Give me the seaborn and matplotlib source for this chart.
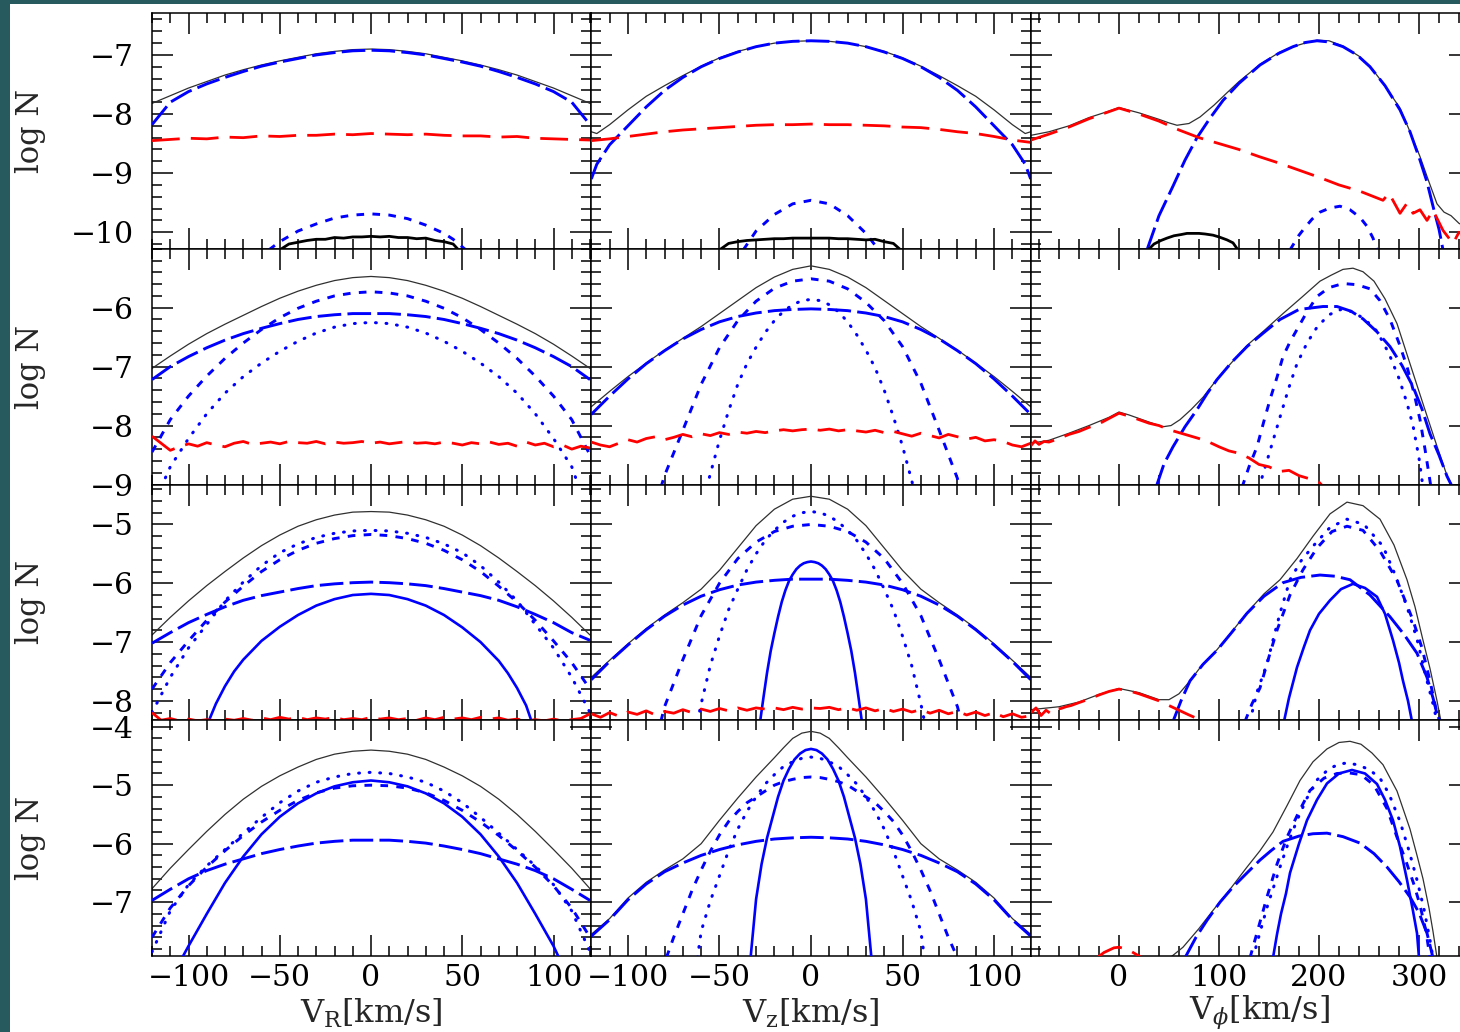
import matplotlib
matplotlib.use("Agg")
import matplotlib.pyplot as plt
from matplotlib.patches import Rectangle
from matplotlib.ticker import MultipleLocator
import seaborn as sns

# ---------------------------------------------------------------- data
V10 = [-120, -110, -100, -90, -80, -70, -60, -50, -40, -30, -20, -10, 0,
       10, 20, 30, 40, 50, 60, 70, 80, 90, 100, 110, 120]
V5 = [-120, -115, -110, -105, -100, -95, -90, -85, -80, -75, -70, -65, -60,
      -55, -50, -45, -40, -35, -30, -25, -20, -15, -10, -5, 0, 5, 10, 15, 20,
      25, 30, 35, 40, 45, 50, 55, 60, 65, 70, 75, 80, 85, 90, 95, 100, 105,
      110, 115, 120]

# ---- row 1 : V_R
r1_vr_total = [-7.82, -7.69, -7.56, -7.45, -7.34, -7.25, -7.17, -7.10, -7.04, -6.98, -6.94, -6.91, -6.90,
               -6.91, -6.94, -6.98, -7.04, -7.10, -7.17, -7.25, -7.34, -7.45, -7.56, -7.69, -7.82]
r1_vr_long = [-8.18, -7.80, -7.62, -7.49, -7.38, -7.28, -7.19, -7.12, -7.06, -7.00, -6.96, -6.93, -6.92,
              -6.93, -6.96, -7.00, -7.06, -7.12, -7.19, -7.28, -7.38, -7.49, -7.62, -7.80, -8.18]
r1_vr_halo = [-8.45, -8.43, -8.41, -8.42, -8.39, -8.40, -8.37, -8.38, -8.36, -8.36, -8.34, -8.35, -8.33,
              -8.34, -8.35, -8.34, -8.36, -8.37, -8.37, -8.39, -8.38, -8.41, -8.42, -8.43, -8.44]
r1_vr_sd_x = [-56, -50, -45, -40, -30, -20, -10, 0, 10, 20, 30, 40, 45, 52]
r1_vr_sd = [-10.30, -10.16, -10.07, -9.98, -9.86, -9.76, -9.71, -9.69, -9.71, -9.77, -9.88, -10.02, -10.12, -10.30]
r1_vr_thick_x = [-50, -45, -40, -35, -30, -25, -20, -15, -10, -5, 0, 5, 10, 15, 20, 25, 30, 35, 40, 45, 48]
r1_vr_thick = [-10.30, -10.20, -10.17, -10.14, -10.12, -10.12, -10.09, -10.10, -10.08, -10.08, -10.07,
               -10.08, -10.07, -10.09, -10.09, -10.11, -10.10, -10.14, -10.16, -10.20, -10.30]

# ---- row 1 : V_z
r1_vz_x = [-120, -117, -110, -100, -90, -80, -70, -60, -50, -40, -30, -20, -10, 0,
           10, 20, 30, 40, 50, 60, 70, 80, 90, 100, 110, 117, 120]
r1_vz_total = [-8.30, -8.33, -8.18, -7.93, -7.70, -7.52, -7.35, -7.19, -7.05, -6.94, -6.86, -6.80, -6.77, -6.76,
               -6.77, -6.80, -6.86, -6.94, -7.05, -7.19, -7.35, -7.52, -7.70, -7.93, -8.18, -8.33, -8.30]
r1_vz_long = [-9.10, -8.85, -8.52, -8.20, -7.88, -7.60, -7.38, -7.20, -7.06, -6.95, -6.86, -6.80, -6.77, -6.76,
              -6.77, -6.80, -6.86, -6.95, -7.06, -7.20, -7.38, -7.60, -7.88, -8.20, -8.52, -8.85, -9.10]
r1_vz_halo = [-8.45, -8.42, -8.38, -8.34, -8.30, -8.27, -8.25, -8.23, -8.21, -8.19, -8.18, -8.18, -8.17,
              -8.18, -8.18, -8.19, -8.20, -8.22, -8.23, -8.26, -8.30, -8.33, -8.38, -8.44, -8.48]
r1_vz_sd_x = [-37, -30, -20, -10, 0, 10, 20, 30, 37]
r1_vz_sd = [-10.30, -9.98, -9.70, -9.52, -9.46, -9.52, -9.72, -10.02, -10.30]
r1_vz_thick_x = [-50, -45, -40, -35, -30, -25, -20, -15, -10, -5, 0, 5, 10, 15, 20, 25, 30, 35, 40, 45, 49]
r1_vz_thick = [-10.30, -10.19, -10.16, -10.14, -10.13, -10.12, -10.11, -10.11, -10.10, -10.10, -10.10,
               -10.10, -10.10, -10.11, -10.11, -10.12, -10.13, -10.12, -10.16, -10.19, -10.30]

# ---- row 1 : V_phi
r1_vp_halo_x = [-88, -70, -50, -30, -10, 0, 20, 40, 60, 80, 100, 120, 140, 160, 180, 200, 220, 240, 255,
                264, 270, 281, 288, 294, 301, 308, 314, 324, 334, 340, 351]
r1_vp_halo = [-8.44, -8.34, -8.22, -8.08, -7.96, -7.90, -8.00, -8.12, -8.27, -8.40, -8.50, -8.60, -8.72,
              -8.83, -8.95, -9.07, -9.20, -9.30, -9.40, -9.46, -9.34, -9.68, -9.51, -9.68, -9.62, -9.80,
              -9.63, -9.97, -10.19, -10.00, -10.10]
r1_vp_total_x = [-88, -70, -50, -30, -10, 0, 20, 40, 50, 58, 70, 81, 95, 108, 120, 141, 160, 174, 190, 198,
                 210, 224, 240, 251, 265, 281, 291, 301, 310, 318, 325, 332, 340, 351]
r1_vp_total = [-8.36, -8.30, -8.20, -8.06, -7.95, -7.89, -7.98, -8.09, -8.15, -8.19, -8.16, -8.05, -7.85,
               -7.64, -7.45, -7.16, -6.96, -6.86, -6.78, -6.75, -6.76, -6.85, -7.02, -7.19, -7.50, -7.90,
               -8.30, -8.72, -9.15, -9.52, -9.66, -9.72, -9.85, -9.95]
r1_vp_long_x = [28, 40, 54, 66, 78, 91, 104, 120, 141, 160, 174, 186, 198, 210, 224, 238, 251, 266, 281,
                291, 301, 308, 314, 320, 324]
r1_vp_long = [-10.30, -9.72, -9.22, -8.78, -8.40, -8.07, -7.77, -7.48, -7.17, -6.97, -6.86, -6.79, -6.76,
              -6.78, -6.86, -7.00, -7.20, -7.52, -7.93, -8.30, -8.78, -9.15, -9.56, -9.95, -10.30]
r1_vp_sd_x = [171, 180, 186, 193, 201, 211, 221, 231, 241, 248, 254, 258]
r1_vp_sd = [-10.30, -10.05, -9.92, -9.78, -9.66, -9.59, -9.56, -9.62, -9.75, -9.90, -10.10, -10.30]
r1_vp_thick_x = [29, 35, 42, 48, 55, 62, 68, 74, 80, 86, 94, 100, 108, 114, 119]
r1_vp_thick = [-10.30, -10.20, -10.14, -10.10, -10.06, -10.04, -10.02, -10.02, -10.02, -10.03, -10.05,
               -10.08, -10.13, -10.18, -10.30]

# ---- row 2 : V_R
r2_vr_total = [-7.03, -6.82, -6.62, -6.44, -6.28, -6.13, -5.98, -5.84, -5.72, -5.62, -5.54, -5.49, -5.47,
               -5.49, -5.54, -5.62, -5.72, -5.84, -5.98, -6.13, -6.28, -6.44, -6.62, -6.82, -7.03]
r2_vr_long = [-7.22, -7.00, -6.83, -6.68, -6.55, -6.44, -6.35, -6.27, -6.20, -6.15, -6.12, -6.10, -6.10,
              -6.10, -6.12, -6.15, -6.20, -6.27, -6.35, -6.44, -6.55, -6.68, -6.83, -7.00, -7.22]
r2_vr_sd = [-8.45, -7.90, -7.50, -7.16, -6.86, -6.60, -6.37, -6.17, -6.01, -5.89, -5.80, -5.75, -5.73,
            -5.75, -5.80, -5.89, -6.01, -6.17, -6.37, -6.60, -6.86, -7.16, -7.50, -7.90, -8.50]
r2_vr_dot_x = [-115, -110, -100, -90, -80, -70, -60, -50, -40, -30, -20, -10, 0,
               10, 20, 30, 40, 50, 60, 70, 80, 90, 100, 110, 114]
r2_vr_dot = [-9.05, -8.70, -8.22, -7.80, -7.45, -7.17, -6.94, -6.74, -6.57, -6.43, -6.33, -6.27, -6.25,
             -6.27, -6.33, -6.43, -6.57, -6.74, -6.94, -7.17, -7.45, -7.80, -8.22, -8.70, -9.05]
r2_vr_halo = [-8.18, -8.30, -8.42, -8.36, -8.31, -8.35, -8.29, -8.33, -8.36, -8.30, -8.27, -8.32, -8.30,
              -8.28, -8.31, -8.27, -8.29, -8.30, -8.27, -8.31, -8.28, -8.30, -8.29, -8.27, -8.30, -8.28,
              -8.31, -8.29, -8.27, -8.30, -8.29, -8.31, -8.28, -8.30, -8.33, -8.29, -8.31, -8.28, -8.32,
              -8.30, -8.35, -8.28, -8.33, -8.30, -8.36, -8.33, -8.40, -8.35, -8.38]

# ---- row 2 : V_z
r2_vz_total = [-7.68, -7.42, -7.17, -6.94, -6.72, -6.52, -6.32, -6.10, -5.88, -5.66, -5.48, -5.35, -5.29,
               -5.35, -5.48, -5.66, -5.88, -6.10, -6.32, -6.52, -6.72, -6.94, -7.17, -7.42, -7.68]
r2_vz_long = [-7.81, -7.50, -7.21, -6.95, -6.73, -6.53, -6.37, -6.24, -6.15, -6.09, -6.05, -6.03, -6.02,
              -6.03, -6.05, -6.09, -6.15, -6.24, -6.37, -6.53, -6.73, -6.95, -7.21, -7.50, -7.81]
r2_vz_sd_x = [-82, -80, -70, -60, -50, -40, -30, -20, -10, 0, 10, 20, 30, 40, 50, 60, 70, 80, 81]
r2_vz_sd = [-9.05, -8.85, -8.08, -7.30, -6.68, -6.22, -5.89, -5.67, -5.55, -5.51, -5.55, -5.68, -5.91,
            -6.22, -6.66, -7.28, -8.08, -8.90, -9.05]
r2_vz_dot_x = [-57, -50, -45, -40, -35, -30, -25, -20, -15, -10, -5, 0, 5, 10, 15, 20, 25, 30, 35, 40, 45, 50, 56]
r2_vz_dot = [-9.05, -8.25, -7.75, -7.30, -6.95, -6.67, -6.42, -6.22, -6.06, -5.95, -5.88, -5.86, -5.88,
             -5.95, -6.07, -6.24, -6.46, -6.72, -7.02, -7.40, -7.85, -8.35, -9.05]
r2_vz_halo = [-8.28, -8.33, -8.36, -8.30, -8.24, -8.28, -8.22, -8.19, -8.24, -8.20, -8.15, -8.19, -8.14,
              -8.17, -8.12, -8.15, -8.11, -8.13, -8.10, -8.12, -8.09, -8.07, -8.09, -8.07, -8.06, -8.08,
              -8.06, -8.09, -8.07, -8.09, -8.11, -8.08, -8.12, -8.10, -8.14, -8.18, -8.13, -8.17, -8.21,
              -8.15, -8.19, -8.23, -8.20, -8.26, -8.24, -8.27, -8.33, -8.36, -8.30]

# ---- row 2 : V_phi
r2_vp_halo_x = [-88, -84, -80, -75, -70, -60, -50, -40, -30, -20, -10, 0, 10, 20, 30, 40, 50, 60, 70, 80,
                90, 100, 110, 120, 130, 140, 150, 160, 170, 180, 190, 200, 205]
r2_vp_halo = [-8.34, -8.26, -8.32, -8.27, -8.28, -8.22, -8.15, -8.10, -8.03, -7.97, -7.88, -7.79, -7.84,
              -7.90, -7.96, -8.00, -8.07, -8.12, -8.17, -8.22, -8.28, -8.36, -8.43, -8.47, -8.55, -8.66,
              -8.70, -8.78, -8.76, -8.85, -8.90, -8.96, -9.05]
r2_vp_total_x = [-88, -70, -50, -30, -10, 0, 10, 20, 30, 44, 52, 61, 72, 84, 100, 128, 145, 164, 183, 201,
                 212, 224, 234, 244, 255, 266, 278, 291, 304, 316, 328, 336]
r2_vp_total = [-8.30, -8.25, -8.13, -8.00, -7.86, -7.77, -7.82, -7.88, -7.94, -8.02, -8.00, -7.90, -7.73,
               -7.52, -7.17, -6.64, -6.39, -6.10, -5.82, -5.55, -5.45, -5.35, -5.33, -5.39, -5.55, -5.85,
               -6.27, -6.95, -7.63, -8.25, -8.85, -9.10]
r2_vp_long_x = [37, 45, 54, 66, 78, 88, 98, 113, 128, 145, 161, 180, 204, 218, 232, 244, 258, 271, 283,
                294, 303, 311, 320, 328, 335]
r2_vp_long = [-9.05, -8.65, -8.36, -8.02, -7.73, -7.46, -7.22, -6.92, -6.66, -6.42, -6.20, -6.03, -5.98,
              -5.98, -6.06, -6.19, -6.41, -6.66, -6.98, -7.34, -7.72, -8.14, -8.50, -8.86, -9.10]
r2_vp_sd_x = [123, 130, 138, 145, 151, 158, 164, 171, 178, 188, 198, 210, 224, 238, 251, 261, 271, 280,
              288, 295, 301, 306, 312]
r2_vp_sd = [-9.05, -8.70, -8.36, -7.92, -7.56, -7.18, -6.83, -6.58, -6.37, -6.07, -5.81, -5.66, -5.59,
            -5.61, -5.68, -5.88, -6.20, -6.60, -7.00, -7.45, -7.90, -8.40, -9.05]
r2_vp_dot_x = [140, 148, 155, 162, 170, 178, 188, 198, 210, 222, 234, 246, 258, 270, 280, 288, 294, 300, 304]
r2_vp_dot = [-9.05, -8.60, -8.20, -7.80, -7.35, -6.95, -6.60, -6.33, -6.12, -6.03, -6.07, -6.20, -6.40,
             -6.78, -7.20, -7.62, -8.00, -8.55, -9.05]

# ---- row 3 : V_R
r3_vr_total = [-6.88, -6.58, -6.30, -6.04, -5.80, -5.57, -5.36, -5.18, -5.03, -4.92, -4.84, -4.79, -4.78,
               -4.79, -4.84, -4.92, -5.03, -5.18, -5.36, -5.57, -5.80, -6.04, -6.30, -6.58, -6.88]
r3_vr_long = [-7.02, -6.84, -6.67, -6.53, -6.40, -6.29, -6.21, -6.15, -6.09, -6.04, -6.01, -5.99, -5.98,
              -5.99, -6.01, -6.04, -6.09, -6.15, -6.21, -6.29, -6.40, -6.53, -6.67, -6.84, -6.97]
r3_vr_dot = [-8.20, -7.60, -7.10, -6.70, -6.30, -5.98, -5.70, -5.48, -5.33, -5.22, -5.15, -5.11, -5.10,
             -5.11, -5.15, -5.22, -5.33, -5.48, -5.70, -5.98, -6.30, -6.70, -7.10, -7.60, -8.20]
r3_vr_sd = [-7.80, -7.35, -6.98, -6.63, -6.32, -6.05, -5.80, -5.60, -5.44, -5.32, -5.24, -5.19, -5.17,
            -5.19, -5.24, -5.32, -5.44, -5.60, -5.80, -6.05, -6.32, -6.63, -6.98, -7.35, -7.80]
r3_vr_solid_x = [-89, -85, -80, -75, -70, -60, -50, -40, -30, -20, -10, 0,
                 10, 20, 30, 40, 50, 60, 70, 75, 80, 85, 88]
r3_vr_solid = [-8.35, -8.05, -7.75, -7.50, -7.30, -6.98, -6.74, -6.54, -6.38, -6.27, -6.20, -6.18,
               -6.20, -6.27, -6.38, -6.54, -6.75, -7.00, -7.32, -7.53, -7.78, -8.08, -8.35]
r3_vr_halo = [-8.20, -8.33, -8.30, -8.34, -8.31, -8.34, -8.32, -8.34, -8.31, -8.33, -8.30, -8.33, -8.29,
              -8.32, -8.28, -8.31, -8.28, -8.32, -8.29, -8.31, -8.28, -8.32, -8.30, -8.32, -8.28, -8.31,
              -8.29, -8.32, -8.30, -8.33, -8.29, -8.32, -8.28, -8.31, -8.29, -8.32, -8.28, -8.31, -8.29,
              -8.33, -8.31, -8.34, -8.32, -8.34, -8.31, -8.34, -8.32, -8.30, -8.22]

# ---- row 3 : V_z
r3_vz_total = [-7.60, -7.31, -7.03, -6.77, -6.54, -6.33, -6.10, -5.78, -5.40, -5.02, -4.74, -4.57, -4.52,
               -4.57, -4.74, -5.02, -5.40, -5.78, -6.10, -6.33, -6.54, -6.77, -7.03, -7.31, -7.60]
r3_vz_long = [-7.64, -7.33, -7.05, -6.79, -6.56, -6.37, -6.22, -6.11, -6.03, -5.98, -5.95, -5.93, -5.93,
              -5.93, -5.95, -5.98, -6.03, -6.11, -6.22, -6.37, -6.56, -6.79, -7.05, -7.33, -7.64]
r3_vz_sd_x = [-82, -80, -70, -60, -50, -40, -30, -20, -10, 0, 10, 20, 30, 40, 50, 60, 70, 80, 82]
r3_vz_sd = [-8.35, -8.10, -7.30, -6.55, -6.00, -5.58, -5.30, -5.12, -5.03, -5.00, -5.03, -5.12, -5.30,
            -5.58, -6.00, -6.55, -7.30, -8.10, -8.35]
r3_vz_dot_x = [-62, -60, -55, -50, -45, -40, -35, -30, -25, -20, -15, -10, -5, 0,
               5, 10, 15, 20, 25, 30, 35, 40, 45, 50, 55, 60, 62]
r3_vz_dot = [-8.35, -8.05, -7.40, -6.90, -6.45, -6.10, -5.77, -5.50, -5.27, -5.10, -4.96, -4.86, -4.80, -4.78,
             -4.80, -4.86, -4.96, -5.10, -5.27, -5.50, -5.77, -6.10, -6.45, -6.90, -7.40, -8.05, -8.35]
r3_vz_solid_x = [-28, -26, -24, -22, -20, -18, -16, -14, -12, -10, -8, -6, -4, -2, 0,
                 2, 4, 6, 8, 10, 12, 14, 16, 18, 20, 22, 24, 26, 28]
r3_vz_solid = [-8.40, -7.95, -7.52, -7.15, -6.85, -6.57, -6.32, -6.12, -5.96, -5.85, -5.76, -5.70, -5.66,
               -5.64, -5.63, -5.64, -5.66, -5.70, -5.76, -5.85, -5.96, -6.12, -6.32, -6.57, -6.85, -7.15,
               -7.52, -7.95, -8.40]
r3_vz_halo = [-8.22, -8.28, -8.20, -8.26, -8.19, -8.23, -8.17, -8.24, -8.18, -8.21, -8.15, -8.20, -8.14,
              -8.18, -8.13, -8.17, -8.12, -8.16, -8.12, -8.14, -8.12, -8.15, -8.11, -8.14, -8.12, -8.13,
              -8.11, -8.15, -8.12, -8.16, -8.12, -8.17, -8.13, -8.18, -8.14, -8.19, -8.15, -8.21, -8.16,
              -8.22, -8.18, -8.24, -8.19, -8.25, -8.20, -8.27, -8.22, -8.28, -8.25]

# ---- row 3 : V_phi
r3_vp_halo_x = [-88, -83, -78, -73, -68, -63, -58, -53, -48, -40, -30, -20, -10, 0, 10, 20, 30, 40, 50,
                60, 70, 78, 84]
r3_vp_halo = [-8.20, -8.12, -8.25, -8.16, -8.22, -8.14, -8.13, -8.10, -8.08, -8.03, -7.97, -7.90, -7.84,
              -7.80, -7.83, -7.88, -7.94, -8.00, -8.08, -8.16, -8.24, -8.30, -8.40]
r3_vp_total_x = [-88, -60, -40, -20, 0, 20, 40, 50, 60, 71, 84, 98, 113, 128, 145, 161, 178, 194, 211,
                 228, 244, 261, 275, 288, 296, 304, 311, 318, 322]
r3_vp_total = [-8.15, -8.10, -8.02, -7.89, -7.79, -7.86, -7.98, -7.98, -7.88, -7.66, -7.37, -7.13, -6.82,
               -6.50, -6.18, -5.94, -5.58, -5.20, -4.82, -4.62, -4.68, -4.91, -5.35, -5.94, -6.40, -6.97,
               -7.45, -8.00, -8.35]
r3_vp_long_x = [54, 62, 71, 84, 98, 113, 128, 145, 164, 182, 201, 216, 231, 251, 271, 285, 298, 308, 314,
                318, 321]
r3_vp_long = [-8.35, -8.00, -7.66, -7.38, -7.14, -6.83, -6.51, -6.22, -5.99, -5.90, -5.86, -5.88, -5.94,
              -6.20, -6.57, -6.87, -7.19, -7.60, -7.95, -8.22, -8.40]
r3_vp_dot_x = [131, 138, 148, 155, 161, 171, 182, 194, 211, 228, 245, 264, 276, 288, 298, 308, 314, 318]
r3_vp_dot = [-8.35, -7.85, -7.37, -6.90, -6.51, -5.94, -5.62, -5.37, -5.05, -4.91, -5.00, -5.37, -5.85,
             -6.40, -6.95, -7.66, -8.05, -8.35]
r3_vp_sd_x = [126, 133, 141, 150, 158, 171, 184, 198, 213, 228, 244, 261, 278, 294, 303, 311, 318, 321]
r3_vp_sd = [-8.35, -8.05, -7.78, -7.25, -6.80, -6.20, -5.77, -5.40, -5.12, -5.03, -5.10, -5.45, -5.95,
            -6.63, -7.10, -7.66, -8.22, -8.35]
r3_vp_solid_x = [165, 170, 178, 185, 191, 200, 211, 222, 234, 246, 258, 266, 274, 280, 284, 289, 293]
r3_vp_solid = [-8.35, -7.95, -7.43, -7.08, -6.80, -6.52, -6.29, -6.10, -6.01, -6.08, -6.23, -6.52, -6.97,
               -7.35, -7.66, -8.00, -8.35]

# ---- row 4 : V_R
r4_vr_total = [-6.77, -6.42, -6.10, -5.79, -5.50, -5.24, -5.02, -4.84, -4.69, -4.56, -4.47, -4.42, -4.40,
               -4.42, -4.47, -4.56, -4.69, -4.84, -5.02, -5.24, -5.50, -5.79, -6.10, -6.42, -6.77]
r4_vr_long = [-6.97, -6.78, -6.60, -6.46, -6.35, -6.26, -6.17, -6.10, -6.04, -5.99, -5.96, -5.94, -5.94,
              -5.94, -5.96, -5.99, -6.04, -6.10, -6.17, -6.26, -6.35, -6.46, -6.60, -6.78, -6.97]
r4_vr_dot = [-7.85, -7.15, -6.70, -6.38, -6.10, -5.82, -5.55, -5.30, -5.10, -4.95, -4.86, -4.80, -4.78,
             -4.80, -4.86, -4.95, -5.10, -5.30, -5.55, -5.82, -6.10, -6.38, -6.70, -7.15, -7.85]
r4_vr_sd = [-7.60, -7.10, -6.72, -6.40, -6.12, -5.86, -5.63, -5.43, -5.26, -5.13, -5.05, -5.01, -5.00,
            -5.01, -5.05, -5.13, -5.26, -5.43, -5.63, -5.86, -6.12, -6.40, -6.72, -7.10, -7.60]
r4_vr_solid_x = [-104, -100, -90, -80, -70, -60, -50, -40, -30, -20, -10, 0,
                 10, 20, 30, 40, 50, 60, 70, 80, 90, 100, 103]
r4_vr_solid = [-7.98, -7.75, -7.20, -6.67, -6.22, -5.84, -5.54, -5.31, -5.14, -5.02, -4.95, -4.92,
               -4.95, -5.02, -5.14, -5.31, -5.54, -5.84, -6.22, -6.67, -7.20, -7.75, -7.95]

# ---- row 4 : V_z
r4_vz_total_x = [-120, -110, -100, -90, -80, -70, -60, -50, -40, -30, -20, -15, -10, -5, 0,
                 5, 10, 15, 20, 30, 40, 50, 60, 70, 80, 90, 100, 110, 120]
r4_vz_total = [-7.55, -7.28, -6.93, -6.66, -6.45, -6.26, -6.00, -5.60, -5.22, -4.86, -4.53, -4.36, -4.20,
               -4.11, -4.08, -4.11, -4.20, -4.36, -4.53, -4.86, -5.22, -5.60, -6.00, -6.26, -6.45, -6.66,
               -6.93, -7.28, -7.55]
r4_vz_long = [-7.58, -7.30, -6.96, -6.69, -6.48, -6.33, -6.20, -6.10, -6.02, -5.96, -5.92, -5.90, -5.89,
              -5.90, -5.92, -5.96, -6.02, -6.10, -6.20, -6.33, -6.48, -6.69, -6.96, -7.30, -7.58]
r4_vz_solid_x = [-33, -30, -27, -24, -21, -18, -15, -12, -9, -6, -3, 0, 3, 6, 9, 12, 15, 18, 21, 24, 27, 30, 33]
r4_vz_solid = [-7.95, -6.95, -6.35, -5.90, -5.55, -5.20, -4.92, -4.72, -4.56, -4.46, -4.40, -4.38, -4.40,
               -4.46, -4.56, -4.72, -4.92, -5.20, -5.55, -5.90, -6.35, -6.95, -7.95]
r4_vz_dot_x = [-62, -60, -55, -50, -45, -40, -35, -30, -25, -20, -15, -10, -5, 0,
               5, 10, 15, 20, 25, 30, 35, 40, 45, 50, 55, 60, 62]
r4_vz_dot = [-7.95, -7.50, -6.98, -6.55, -6.12, -5.75, -5.45, -5.20, -4.98, -4.82, -4.68, -4.60, -4.54, -4.52,
             -4.54, -4.60, -4.68, -4.82, -4.98, -5.20, -5.45, -5.75, -6.12, -6.55, -6.98, -7.50, -7.95]
r4_vz_sd_x = [-79, -75, -70, -65, -60, -55, -50, -45, -40, -35, -30, -25, -20, -15, -10, -5, 0,
              5, 10, 15, 20, 25, 30, 35, 40, 45, 50, 55, 60, 65, 70, 75, 80]
r4_vz_sd = [-7.95, -7.60, -7.20, -6.80, -6.45, -6.13, -5.85, -5.62, -5.45, -5.30, -5.20, -5.10, -5.00,
            -4.94, -4.90, -4.87, -4.86, -4.87, -4.90, -4.94, -5.00, -5.10, -5.20, -5.30, -5.45, -5.62,
            -5.85, -6.13, -6.45, -6.80, -7.20, -7.60, -7.95]

# ---- row 4 : V_phi
r4_vp_total_x = [51, 64, 80, 94, 111, 128, 141, 154, 168, 181, 194, 208, 220, 231, 242, 253, 264, 278,
                 291, 298, 304, 310, 314, 318]
r4_vp_total = [-7.95, -7.77, -7.45, -7.14, -6.78, -6.40, -6.12, -5.80, -5.35, -4.92, -4.60, -4.38, -4.27,
               -4.25, -4.30, -4.45, -4.65, -5.10, -5.75, -6.20, -6.60, -7.10, -7.50, -7.95]
r4_vp_long_x = [66, 77, 88, 101, 114, 128, 141, 152, 164, 180, 194, 208, 224, 241, 255, 268, 280, 291,
                300, 308, 314]
r4_vp_long = [-7.95, -7.60, -7.31, -7.00, -6.74, -6.50, -6.28, -6.12, -5.96, -5.87, -5.83, -5.82, -5.88,
              -5.99, -6.17, -6.40, -6.65, -6.91, -7.18, -7.53, -7.95]
r4_vp_solid_x = [154, 158, 162, 167, 171, 180, 188, 198, 208, 220, 233, 246, 258, 266, 274, 281, 288,
                 294, 298, 300]
r4_vp_solid = [-7.95, -7.55, -7.20, -6.85, -6.50, -6.00, -5.60, -5.25, -4.97, -4.80, -4.74, -4.80, -4.98,
               -5.25, -5.60, -6.05, -6.62, -7.15, -7.53, -7.95]
r4_vp_dot_x = [134, 138, 148, 155, 161, 170, 178, 188, 198, 210, 220, 228, 238, 250, 261, 270, 281, 290,
               298, 305, 311, 314]
r4_vp_dot = [-7.95, -7.70, -7.09, -6.72, -6.40, -5.95, -5.60, -5.22, -4.91, -4.72, -4.64, -4.62, -4.65,
             -4.73, -4.88, -5.15, -5.62, -6.12, -6.62, -7.12, -7.65, -7.95]
r4_vp_sd_x = [131, 140, 148, 158, 168, 180, 191, 205, 218, 230, 242, 255, 268, 278, 287, 295, 301, 307, 311]
r4_vp_sd = [-7.95, -7.40, -6.91, -6.35, -5.89, -5.45, -5.09, -4.88, -4.80, -4.79, -4.82, -5.00, -5.40,
            -5.89, -6.30, -6.70, -7.05, -7.50, -7.95]
r4_vp_halo_x = [-22, -15, -10, -5, 0, 5, 10, 15, 23]
r4_vp_halo = [-7.95, -7.86, -7.82, -7.78, -7.77, -7.79, -7.82, -7.87, -7.95]

# axis settings
XLABELS = [r"V$_{\rm R}$[km/s]", r"V$_{\rm z}$[km/s]", r"V$_{\phi}$[km/s]"]
YLABEL = "log N"
XLIMS = [(-120, 120.7), (-120, 120), (-88.3, 351)]
XMAJOR = [50, 50, 100]
XMINOR = [10, 10, 20]
YLIMS = [(-10.28, -6.29), (-9.0, -5.0), (-8.33, -4.32), (-7.92, -3.89)]
YTICKS = [[-10, -9, -8, -7], [-9, -8, -7, -6], [-8, -7, -6, -5], [-7, -6, -5, -4]]

PANELS = [
    [  # row 1
        [(V10, r1_vr_total, "total"), (V10, r1_vr_long, "long"), (r1_vr_sd_x, r1_vr_sd, "sd"),
         (V10, r1_vr_halo, "halo"), (r1_vr_thick_x, r1_vr_thick, "thick")],
        [(r1_vz_x, r1_vz_total, "total"), (r1_vz_x, r1_vz_long, "long"), (r1_vz_sd_x, r1_vz_sd, "sd"),
         (V10, r1_vz_halo, "halo"), (r1_vz_thick_x, r1_vz_thick, "thick")],
        [(r1_vp_total_x, r1_vp_total, "total"), (r1_vp_long_x, r1_vp_long, "long"),
         (r1_vp_sd_x, r1_vp_sd, "sd"), (r1_vp_halo_x, r1_vp_halo, "halo"),
         (r1_vp_thick_x, r1_vp_thick, "thick")],
    ],
    [  # row 2
        [(V10, r2_vr_total, "total"), (V10, r2_vr_long, "long"), (V10, r2_vr_sd, "sd"),
         (r2_vr_dot_x, r2_vr_dot, "dot"), (V5, r2_vr_halo, "halo")],
        [(V10, r2_vz_total, "total"), (V10, r2_vz_long, "long"), (r2_vz_sd_x, r2_vz_sd, "sd"),
         (r2_vz_dot_x, r2_vz_dot, "dot"), (V5, r2_vz_halo, "halo")],
        [(r2_vp_total_x, r2_vp_total, "total"), (r2_vp_long_x, r2_vp_long, "long"),
         (r2_vp_sd_x, r2_vp_sd, "sd"), (r2_vp_dot_x, r2_vp_dot, "dot"),
         (r2_vp_halo_x, r2_vp_halo, "halo")],
    ],
    [  # row 3
        [(V10, r3_vr_total, "total"), (V10, r3_vr_long, "long"), (V10, r3_vr_sd, "sd"),
         (V10, r3_vr_dot, "dot"), (r3_vr_solid_x, r3_vr_solid, "solid"), (V5, r3_vr_halo, "halo")],
        [(V10, r3_vz_total, "total"), (V10, r3_vz_long, "long"), (r3_vz_sd_x, r3_vz_sd, "sd"),
         (r3_vz_dot_x, r3_vz_dot, "dot"), (r3_vz_solid_x, r3_vz_solid, "solid"),
         (V5, r3_vz_halo, "halo")],
        [(r3_vp_total_x, r3_vp_total, "total"), (r3_vp_long_x, r3_vp_long, "long"),
         (r3_vp_sd_x, r3_vp_sd, "sd"), (r3_vp_dot_x, r3_vp_dot, "dot"),
         (r3_vp_solid_x, r3_vp_solid, "solid"), (r3_vp_halo_x, r3_vp_halo, "halo")],
    ],
    [  # row 4
        [(V10, r4_vr_total, "total"), (V10, r4_vr_long, "long"), (V10, r4_vr_sd, "sd"),
         (V10, r4_vr_dot, "dot"), (r4_vr_solid_x, r4_vr_solid, "solid")],
        [(r4_vz_total_x, r4_vz_total, "total"), (V10, r4_vz_long, "long"), (r4_vz_sd_x, r4_vz_sd, "sd"),
         (r4_vz_dot_x, r4_vz_dot, "dot"), (r4_vz_solid_x, r4_vz_solid, "solid")],
        [(r4_vp_total_x, r4_vp_total, "total"), (r4_vp_long_x, r4_vp_long, "long"),
         (r4_vp_sd_x, r4_vp_sd, "sd"), (r4_vp_dot_x, r4_vp_dot, "dot"),
         (r4_vp_solid_x, r4_vp_solid, "solid"), (r4_vp_halo_x, r4_vp_halo, "halo")],
    ],
]

# ---------------------------------------------------------------- style
sns.set_style("ticks")
plt.rcParams["font.family"] = ["DejaVu Serif", "DejaVu Sans"]
plt.rcParams["mathtext.fontset"] = "dejavuserif"
plt.rcParams["lines.scale_dashes"] = False
plt.rcParams["axes.unicode_minus"] = True

BLUE = "#0000ff"
RED = "#ff0000"
STYLES = {
    "total": dict(color="#303030", linewidth=0.9, linestyle="-", zorder=2),
    "long": dict(color=BLUE, linewidth=2.1, linestyle=(0, (17, 4.5)), zorder=3),
    "sd": dict(color=BLUE, linewidth=2.1, linestyle=(0, (5.5, 6.0)), zorder=3),
    "dot": dict(color=BLUE, linewidth=2.2, linestyle=(0, (0.6, 7.0)), dash_capstyle="round", zorder=3),
    "solid": dict(color=BLUE, linewidth=1.9, linestyle="-", zorder=3),
    "halo": dict(color=RED, linewidth=2.0, linestyle=(0, (20, 8)), zorder=4),
    "thick": dict(color="black", linewidth=2.0, linestyle="-", zorder=4),
}

W, H = 1460, 1032
fig = plt.figure(figsize=(W / 100, H / 100), dpi=100)
fig.patch.set_facecolor("#275a5f")
fig.add_artist(Rectangle((10 / W, 0), 1 - 10 / W, 1 - 4 / H, transform=fig.transFigure,
                         facecolor="white", edgecolor="none", zorder=-10))

X_EDGES = [152, 591.3, 1030.7, 1470]
Y_TOPS = [13, 248.75, 484.5, 720.25]
H_ROW = 235.75

for r in range(4):
    for c in range(3):
        rect = [X_EDGES[c] / W, 1 - (Y_TOPS[r] + H_ROW) / H,
                (X_EDGES[c + 1] - X_EDGES[c]) / W, H_ROW / H]
        ax = fig.add_axes(rect)
        ax.set_facecolor("white")
        for x, y, kind in PANELS[r][c]:
            assert len(x) == len(y), (r, c, kind, len(x), len(y))
            sns.lineplot(x=x, y=y, ax=ax, estimator=None, errorbar=None, sort=False,
                         **STYLES[kind])
        ax.set_xlim(*XLIMS[c])
        ax.set_ylim(*YLIMS[r])
        ax.xaxis.set_major_locator(MultipleLocator(XMAJOR[c]))
        ax.xaxis.set_minor_locator(MultipleLocator(XMINOR[c]))
        ax.set_yticks(YTICKS[r])
        ax.yaxis.set_minor_locator(MultipleLocator(0.2))
        ax.tick_params(which="both", direction="in", top=True, right=True, bottom=True,
                       left=True, color="black", width=1.1, labelsize=21.5,
                       labelcolor="black")
        ax.tick_params(which="major", length=15)
        ax.tick_params(which="minor", length=7.2)
        ax.tick_params(axis="y", pad=13)
        ax.tick_params(axis="x", pad=6)
        ax.tick_params(labelbottom=(r == 3), labelleft=(c == 0))
        ax.set_xlabel("")
        ax.set_ylabel("")
        for s in ax.spines.values():
            s.set_linewidth(1.1)
            s.set_color("black")

for r in range(4):
    yc = 1 - (Y_TOPS[r] + H_ROW / 2) / H
    fig.text(30 / W, yc, YLABEL, rotation=90, ha="center", va="center", fontsize=22)

XLABEL_X = [371, 811, 1259]
for c in range(3):
    fig.text(XLABEL_X[c] / W, 1 - 1013 / H, XLABELS[c], ha="center", va="center", fontsize=23)

fig.savefig("out.png", dpi=100, facecolor=fig.get_facecolor())
